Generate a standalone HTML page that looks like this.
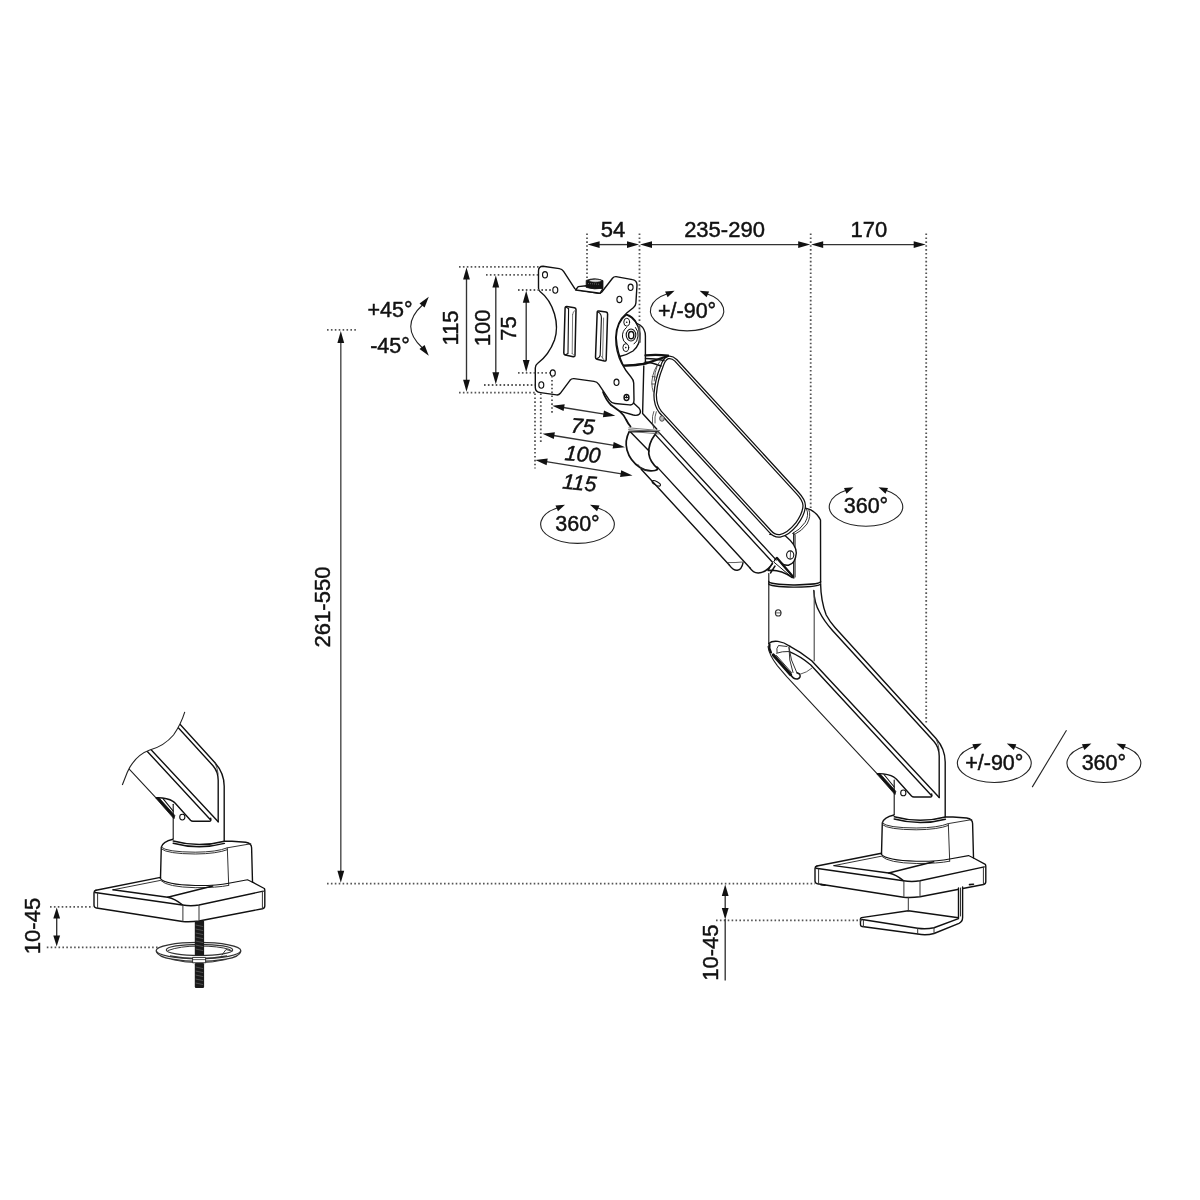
<!DOCTYPE html>
<html lang="en"><head><meta charset="utf-8"><title>Monitor arm dimensions</title>
<style>
html,body{margin:0;padding:0;background:#fff}
svg{display:block;filter:grayscale(1)}
text{font-family:"Liberation Sans",sans-serif;font-size:22px;fill:#111;stroke:#111;stroke-width:0.45px}
.dl{stroke:#333;stroke-width:1.35;fill:none}
.dv{stroke:#555;stroke-width:1.5;fill:none}
.el{stroke:#222;stroke-width:1.1;fill:none}
.ah{fill:#111;stroke:none}
.dt{stroke:#555;stroke-width:1.8;stroke-dasharray:1.6 2.3;fill:none}
.o{stroke:#111;stroke-width:1.4;fill:none;stroke-linecap:round;stroke-linejoin:round}
.w{stroke:#111;stroke-width:1.4;fill:#fff;stroke-linecap:round;stroke-linejoin:round}
.h{stroke:#111;stroke-width:1.8;fill:none;stroke-linecap:round;stroke-linejoin:round}
.t{stroke:#333;stroke-width:0.8;fill:none;stroke-linecap:round;stroke-linejoin:round}
.tw{stroke:#333;stroke-width:0.8;fill:#fff;stroke-linecap:round;stroke-linejoin:round}
.k{fill:#111;stroke:#111;stroke-width:0.8;stroke-linejoin:round}
</style></head>
<body>
<svg width="1200" height="1200" viewBox="0 0 1200 1200">
<rect width="1200" height="1200" fill="#fff"/>
<g id="p20_elbow">
<path class="w" d="M793.8,532 L793.8,508.5 L805,508.5 Q816.5,509.5 820.6,520 L820.6,583 L768.8,582 L768.8,560 Z" style="stroke:none"/>
<path class="o" d="M803,507.6 Q806,508.2 810.8,509.8 Q817.6,513.6 820.5,520 L820.6,583"/>
<path class="o" d="M793.8,533 L793.8,578"/>
<path class="t" d="M806.5,509 Q809.5,515 805,522.5 Q800,530 792.5,533.5 M808.8,509.6 Q811.5,516 807,524 Q802,531 794.5,534.5" style="stroke-width:1"/>
<path class="t" d="M795.3,535 L795.3,577"/>
</g>
<g id="p30_lowerarm">
<path class="w" style="stroke:none" d="M768.8,582 L820.6,583 C820.8,595 822,604 826.2,615 Q830,622 835,627.5 L936,738.5 Q945.2,749 945.2,762 L945.2,817 L894.2,817 L894.2,795 L877.5,774.2 L786.7,676.7 L777.5,665.8 Q768,653 768.8,643 Z"/>
<path class="o" d="M768.8,573.5 L768.8,643.5" style="stroke-width:1.1"/>
<path class="o" d="M768.8,581.4 A25.9,3.3 0 0 0 820.6,581.8" style="stroke-width:1.5"/>
<path class="o" d="M768.8,583.6 A25.9,3.3 0 0 0 820.6,584" style="stroke-width:1.3"/>
<path class="o" d="M820.6,584 C820.8,595 822,604 826.2,615 Q830,622 835,627.5 L936,738.5 Q945.2,749 945.2,762 L945.2,817"/>
<path class="o" d="M813.8,590.5 C814.2,600 816,606 819.5,612 Q824,621 832.5,630.5 L934,741.5 Q939.2,747.5 939.2,756 L939.2,797.5"/>
<path class="t" d="M936,738.5 Q938.5,744 939.2,750"/>
<path class="o" d="M814.2,591 L814.2,660.8" style="stroke-width:1.1;stroke:#444"/>
<path class="o" d="M790,646.3 Q801,652 811.7,660.8 L939.2,797.5"/>
<path class="o" d="M789.2,651.7 Q800,656 810.8,665 L931.7,795.8"/>
<path class="o" d="M768,646.5 Q769,655 777.5,665.8 L786.7,676.7 L877.5,774.2" style="stroke-width:1.1;stroke:#222"/>
<ellipse class="t" cx="778.2" cy="612.9" rx="2.8" ry="3.1" style="stroke-width:1.1"/><path class="t" d="M775.4,612.9 L781,612.9"/>
<path class="o" d="M768.8,643.5 Q772,640.6 778,641.4 Q784,642.2 790,646.3"/>
<path class="h" d="M769.5,644.5 Q768.5,648 771,652.5" style="stroke-width:2.2"/>
<path class="h" d="M773.3,655 L790.5,674.5" style="stroke-width:3.2"/>
<path class="o" d="M790.5,674.5 Q793.5,679.5 797.5,679 Q801.5,677.5 799.5,674 L797,672.8" style="stroke-width:1.5"/>
<path class="t" d="M776.6,653.2 Q782,651.2 788.5,651.5 M789,647.5 L791.5,660 L797,673 M789,647.5 L789.8,660 L793,672.5 M777,652.5 Q776,648 778.5,645.5 L787,646.5 M776.5,655.5 L791.5,672.5" style="stroke-width:1"/>
<path class="t" d="M800,674.3 Q807,672.5 811.7,668.3"/>
<path class="o" d="M877.5,773.6 Q888,773.3 894,777.2 Q895.5,778.3 896.5,779.3 L911.5,796 Q912.5,797 914,797 L930.5,797 Q931.8,797 931.8,795.8 L931.7,794"/>
<path class="k" d="M876.9,774 L879.8,773.4 L895.8,791.3 L895,794.6 Z"/>
<path class="o" d="M884,774.5 L894.2,787" style="stroke-width:1.1"/>
<ellipse class="o" cx="903.3" cy="792.9" rx="2.6" ry="2.9" style="stroke-width:1.1"/>
<path class="o" d="M894.2,780 L894.2,817.5" style="stroke-width:1.1"/>
</g>
<g id="p40_base">
<path class="w" style="stroke:none" d="M882.3,823 Q883,818 894,815 L945.6,817 L953,817 L966.7,818 Q972.6,819 972.6,823.5 L973.5,857.5 L985.3,864.3 L985.8,881.5 Q985.8,884 983.5,884.5 L920,897 L903.5,897.3 L817.5,883.8 Q815,883.3 815,881 L815,868.5 Q815,866.5 817,866 L881.5,853.2 Z"/>
<path class="o" d="M894,815 Q883.5,817.5 882.3,823 L881.5,854"/>
<path class="o" d="M945.6,817 L953,817 L966.7,818 Q972.6,819 972.6,823.5 L973.5,857.5"/>
<path class="o" d="M894.2,816.8 Q920,823.8 945.4,817" style="stroke-width:1.5"/>
<path class="o" d="M894.2,819 Q920,826 945.4,819.2" style="stroke-width:1.5"/>
<path class="t" d="M882.3,823 Q887,827.8 916.2,828 Q938,827.8 948.3,823.6 L971.8,819.6" style="stroke-width:1"/>
<path class="t" d="M882.6,824.8 Q888,829.6 916.2,829.8 Q938,829.6 948.6,825.4" style="stroke-width:1"/>
<path class="t" d="M948.3,823.6 L949.7,861" style="stroke-width:1"/>
<path class="o" d="M881.2,854.2 Q886,860.5 916.2,861.3 Q938,861.5 949.7,859 L968.5,855.6 L973.5,858" style="stroke-width:1.1"/>
<path class="t" d="M882,856.5 Q888,862.8 916.2,863.5 Q938,863.6 949.7,861.2" style="stroke-width:1"/>
<path class="o" d="M817,866 L881.5,853.2"/>
<path class="t" d="M834,865.6 L881.5,856.2" style="stroke-width:1"/>
<path class="o" d="M816,868.3 L903.4,880.8 Q912,882.3 920,880.8 L984.3,866.9"/>
<path class="o" d="M973.5,858 L985.3,864.3 Q985.8,865 985.8,866.5 L985.8,881.5 Q985.8,884 983.5,884.5 L920,896.8 Q911,898 903.5,897.3 L817.5,883.8 Q815,883.3 815,881 L815,868.5 Q815,866.5 817,866"/>
<path class="o" d="M834,865.6 L888.7,873 Q896,874.5 903.4,880.6"/>
<path class="o" d="M888.7,873 L933.7,861.8"/>
<path class="t" d="M818.6,869 L818.6,884 M903.9,881 L903.9,897 M920,881 L920,896.6 M983.4,867.2 L983.4,884.2" style="stroke-width:1"/>
</g>
<g id="p45_clamp">
<path class="w" d="M958.5,888 L958.5,917.8 L908.3,910.8 L861.5,917.6 Q860.4,917.8 860.4,919 L860.5,925 Q860.6,926.3 862,926.5 L917.7,934 Q926,935.6 934,933.5 L959,923.3 Q962.6,921.6 962.6,917.5 L962.6,887"/>
<path class="t" d="M908.3,897.3 L908.3,910.8 M960.5,888 L960.5,916" style="stroke-width:1"/>
<path class="o" d="M860.6,919.3 L917.7,928.2 Q926,929.4 934,927.7 L958.5,918.6" style="stroke-width:1.5"/>
<path class="t" d="M863.4,920 L863.4,926.6 M917.7,928.4 L917.7,934 M934,927.8 L934,933.5" style="stroke-width:1"/>
<path class="o" d="M969.5,884.6 L973.5,884.2 M821,884.6 L825,885.3" style="stroke-width:1.6"/>
</g>
<g id="p50_upperarm">
<path class="w" style="stroke:none" d="M660.2,415.1 L775.2,540.3 L738.0,574.5 L643.2,471.5 Z"/>
<path class="w" d="M769.8,534.4 L785,535.5 Q796.5,545 796.3,553 Q795.5,563.5 788.5,565.2 Q784,566 779.5,561.5 L775.1,559.4"/>
<ellipse class="o" cx="790.2" cy="555" rx="3.6" ry="4.1" style="stroke-width:1.1"/><path class="t" d="M790.6,551.5 L790.2,558.5"/>
<path class="w" d="M776.5,557.8 L793,576.2 L792.4,577.8 L774,562.2 Z" style="stroke-width:1"/>
<path class="h" d="M777,558 L792.8,576.6" style="stroke-width:2.3"/>
<path class="o" d="M772.5,563 L768,570.5 M775,566 L770.5,573 M768,570.5 Q780,569 792,577.5"/>
<path class="o" d="M655.0,428.1 L776.1,559.9"/>
<path class="o" d="M654.6,433.9 L772.3,562.0"/>
<path class="o" d="M657.1,466.9 L749.8,567.7"/>
<path class="o" d="M641.2,469.2 L729.5,565.3"/>
<path class="o" d="M749.8,567.7 Q753,573.2 758.5,573 Q766.5,572.5 772.5,563.5"/>
<path class="o" d="M729.5,565.3 Q733.5,570.6 737.3,570.2 Q741.8,569.4 743,562.8"/>
<path class="t" d="M727.5,562.6 Q735,562.8 742.8,562"/>
<path d="M675.8,360.3 L797.3,492.8 Q804.5,500.5 804.2,506 Q803.8,514 796.5,524 Q788,534.5 780,535.8 Q774.5,536.5 770,531.3 L660.3,411.9 Q654.8,404.5 655.2,394 Q656.2,380 661.7,366.7 Q664,359 668,357.5 Q672,356.5 675.8,360.3 Z" fill="#fff" stroke="#111" stroke-width="3.7" stroke-linejoin="round"/>
<path d="M675.8,360.3 L797.3,492.8 Q804.5,500.5 804.2,506 Q803.8,514 796.5,524 Q788,534.5 780,535.8 Q774.5,536.5 770,531.3 L660.3,411.9 Q654.8,404.5 655.2,394 Q656.2,380 661.7,366.7 Q664,359 668,357.5 Q672,356.5 675.8,360.3 Z" fill="none" stroke="#fff" stroke-width="1.2" stroke-linejoin="round"/>
</g>
<g id="p05_neck">
<path class="w" style="stroke-width:1.7" d="M629.2,431.7 Q624.5,441 627,450 Q630,461 640,467.5 Q647,472 655,470.5 Q657.5,470 657.8,468.5 Q650,462 648.8,453.8 Q648,444 655,434.5 L657,431 Z"/>
<path class="o" d="M630.5,432 L649,451"/>
<path class="t" d="M638,464.5 Q641,469.5 647,470.5"/>
<ellipse class="o" cx="656.3" cy="483.3" rx="4.6" ry="1.8" transform="rotate(28 656.3 483.3)" style="stroke-width:1.1"/>
<path class="w" style="stroke:none" d="M603,392 L610,404 L620,411.6 Q624,415 626,419.5 Q628,423.5 631.7,426 L628.8,427.8 L660,431.3 L656.7,429 L642.6,413.5 L643.8,366 L623.3,366 Z"/>
<path class="o" d="M656.7,429 L642.6,413.5 L643.8,366"/>
<path class="o" style="stroke-width:1.8" d="M603,392 Q606,400 611,405 L620,411.6 Q624,415 626,419.5 Q628,423.5 630.5,426.5"/>
<path d="M628.4,427.8 L660.2,430.6 M628.2,429.5 L660,432.4 M628.3,431.2 L659.6,434" stroke="#555" stroke-width="0.8" fill="none"/>
<path class="w" d="M632.5,402 L639.2,408.3 Q641.5,411.5 639.5,414 Q637.5,416 633.3,415 L620.8,411.3"/>
<path class="w" d="M626.7,314.5 Q633,316.5 636.7,323.3 L640,325 Q645.4,329 645.4,336 L645.4,361.5 Q645.3,363.5 643,363.8 L623.3,365.6 Q617,352 616.2,337.5 Q616.5,322 626.7,314.5 Z"/>
<path class="h" d="M623.3,365.6 Q634,366 645.4,363.6 L668,356" style="stroke-width:2.2"/>
<path class="h" d="M645.5,355.4 Q656,354.3 668,355.6" style="stroke-width:2.2"/>
<path class="o" d="M645.5,358.5 Q655,358.5 664,360.5 M645.5,362 Q652,362.5 661,366"/>
<path class="t" d="M660,361.5 Q653,369 651.8,382 Q651.8,388 653.3,392 M657.5,365 Q654.5,372 654.2,381 M652.2,376.5 L655.5,377 M651.8,384 L655,384"/>
<path class="t" d="M653.8,411.5 Q651.8,416 652.5,423 L653.8,428.5 M656.3,411.7 Q654.3,416.5 655,423"/>
<ellipse class="t" cx="662" cy="418.5" rx="2.4" ry="2.8" style="fill:#bbb"/>
<path class="o" d="M626.7,314.8 Q637.5,319 640,333.5 Q640.5,345 633,351 Q627,355 619.5,356.5"/>
<ellipse class="o" cx="631" cy="335" rx="4.8" ry="6" style="stroke-width:1.1"/>
<ellipse class="o" cx="631.2" cy="335.2" rx="2.6" ry="3.6" style="stroke-width:1.5"/>
<path class="o" d="M626.5,327.5 Q622,331 622.5,337 Q623,342 626.5,343.5 M635.5,327.5 Q638.5,331 638,336 Q637.5,342 634,344" style="stroke-width:1"/>
<ellipse class="o" cx="626.7" cy="322.2" rx="2.9" ry="3.9" style="stroke-width:1"/><circle cx="626.7" cy="322.2" r="0.8" fill="#111"/>
<ellipse class="o" cx="625.8" cy="347.6" rx="2.9" ry="3.9" style="stroke-width:1"/><circle cx="625.8" cy="347.6" r="0.8" fill="#111"/>
<path class="h" d="M639.3,326 L639.8,342" style="stroke:#555;stroke-width:2"/>
</g>
<g id="p10_plate">
<path class="w" d="M538.5,271 Q538.5,266.2 543,266.2 L559.3,268.6 Q562,269 563.6,271.4 L574.8,288.6 Q575.6,289.6 577.6,289.9 L598.5,293.2 Q600.5,293.5 601.8,292 L612.5,278.2 Q613.8,276.5 616,276.6 L632.5,279.6 Q637,280.3 637,285 L635.9,303 Q635.7,306 633.3,307.8 L626.7,313 Q616,322 615.7,337.5 Q615.7,352 621.7,363.3 Q626,371.5 630.8,376.7 Q633.7,380 633.7,383 L634,400 Q634,405.3 629.5,404.9 L615,403.5 Q611.5,403.1 609.5,400.3 L598.8,384.4 Q597,381.8 594,381.4 L574,378.6 Q571.5,378.4 570,380.3 L560.3,393.3 Q558.8,395.2 556.5,394.9 L540.5,392.6 Q535.3,392 535.3,387.5 L535.3,368 Q535.3,365 537.5,363.5 Q549,355 554.5,340 Q558.5,328 554.5,314 Q550,299 540,291.5 Q538.5,290.4 538.5,288 Z"/>
<g class="o" style="stroke-width:1.1">
<ellipse cx="545" cy="274.8" rx="2.5" ry="3.2"/>
<ellipse cx="555.3" cy="290" rx="2.5" ry="3.2"/>
<ellipse cx="630.6" cy="287.3" rx="2.5" ry="3.2"/>
<ellipse cx="619.4" cy="299.4" rx="2.5" ry="3.2"/>
<ellipse cx="552.8" cy="373.1" rx="2.5" ry="3.2"/>
<ellipse cx="541.3" cy="385" rx="2.5" ry="3.2"/>
<ellipse cx="616.5" cy="382.3" rx="2.5" ry="3.2"/>
<ellipse cx="626.5" cy="397.5" rx="2.4" ry="3" style="fill:#fff;stroke-width:1.5"/><path d="M625.2,397.5 h2.6 M626.5,395.8 v2" stroke="#111" stroke-width="1.2" fill="none"/>
</g>
<!-- slots -->
<path class="o" style="stroke-width:1.5" d="M566.8,306.5 L574.4,307.7 Q576,308 576,309.6 L575,355.2 Q574.9,357 573.2,356.7 L565.4,355 Q563.7,354.6 563.8,353 L565.1,308 Q565.2,306.3 566.8,306.5 Z"/>
<path class="o" style="stroke-width:1.1" d="M568.6,308.5 L568,353.5 M566,307.2 Q568.4,307.8 568.6,309.5 M568,353.5 L565,355"/>
<path class="t" style="stroke:#555" d="M572.6,314.5 L572.2,353.5 M572.6,314.5 Q572.8,311 575.6,310 M572.2,353.5 L574.6,356"/>
<path class="o" style="stroke-width:1.5" d="M598.9,310.9 L606,312 Q607.6,312.3 607.6,313.9 L606.2,359.6 Q606.1,361.3 604.4,361.1 L597,359.2 Q595.4,358.8 595.5,357.2 L597.2,312.4 Q597.3,310.7 598.9,310.9 Z"/>
<path class="o" style="stroke-width:1.1" d="M598,312 Q601.4,313.5 601.4,318 L600.2,355 Q600,357.5 596.5,358.8"/>
<path class="t" style="stroke:#555" d="M603.6,318 L602.6,358 M600.3,355.3 L602.6,358 L604.8,360.8"/>
<!-- bracket + knob -->
<path class="w" d="M575.6,290 L578.2,286.6 L586.3,285.7 L602,287.8 L602.6,289 L600,293.3 Z"/>
<path class="k" d="M586.2,280.4 Q594.5,277.2 603,280.6 L603,288.2 Q594.5,290 586.2,287.4 Z"/>
<ellipse cx="595.3" cy="280.7" rx="6.2" ry="1.5" fill="#ddd" stroke="#111" stroke-width="0.6"/>
<path d="M588,283.5 L600,284.3" stroke="#888" stroke-width="0.7" stroke-dasharray="1 1" fill="none"/>
</g>
<clipPath id="cutL"><path d="M905.8,687.7 Q902,700 894.5,710.8 Q885,722 870.8,725.8 Q856,731 848.3,748 L843.3,760.8 L800,780 L800,920 L1000,920 L1000,687 Z"/></clipPath>
<g id="left" transform="translate(-721 24.2)"><g clip-path="url(#cutL)">
<path class="w" style="stroke:none" d="M768.8,582 L820.6,583 C820.8,595 822,604 826.2,615 Q830,622 835,627.5 L936,738.5 Q945.2,749 945.2,762 L945.2,817 L894.2,817 L894.2,795 L877.5,774.2 L786.7,676.7 L777.5,665.8 Q768,653 768.8,643 Z"/>
<path class="o" d="M768.8,573.5 L768.8,643.5" style="stroke-width:1.1"/>
<path class="o" d="M768.8,581.4 A25.9,3.3 0 0 0 820.6,581.8" style="stroke-width:1.5"/>
<path class="o" d="M768.8,583.6 A25.9,3.3 0 0 0 820.6,584" style="stroke-width:1.3"/>
<path class="o" d="M820.6,584 C820.8,595 822,604 826.2,615 Q830,622 835,627.5 L936,738.5 Q945.2,749 945.2,762 L945.2,817"/>
<path class="o" d="M813.8,590.5 C814.2,600 816,606 819.5,612 Q824,621 832.5,630.5 L934,741.5 Q939.2,747.5 939.2,756 L939.2,797.5"/>
<path class="t" d="M936,738.5 Q938.5,744 939.2,750"/>
<path class="o" d="M814.2,591 L814.2,660.8" style="stroke-width:1.1;stroke:#444"/>
<path class="o" d="M790,646.3 Q801,652 811.7,660.8 L939.2,797.5"/>
<path class="o" d="M789.2,651.7 Q800,656 810.8,665 L931.7,795.8"/>
<path class="o" d="M768,646.5 Q769,655 777.5,665.8 L786.7,676.7 L877.5,774.2" style="stroke-width:1.1;stroke:#222"/>
<ellipse class="t" cx="778.2" cy="612.9" rx="2.8" ry="3.1" style="stroke-width:1.1"/><path class="t" d="M775.4,612.9 L781,612.9"/>
<path class="o" d="M768.8,643.5 Q772,640.6 778,641.4 Q784,642.2 790,646.3"/>
<path class="h" d="M769.5,644.5 Q768.5,648 771,652.5" style="stroke-width:2.2"/>
<path class="h" d="M773.3,655 L790.5,674.5" style="stroke-width:3.2"/>
<path class="o" d="M790.5,674.5 Q793.5,679.5 797.5,679 Q801.5,677.5 799.5,674 L797,672.8" style="stroke-width:1.5"/>
<path class="t" d="M776.6,653.2 Q782,651.2 788.5,651.5 M789,647.5 L791.5,660 L797,673 M789,647.5 L789.8,660 L793,672.5 M777,652.5 Q776,648 778.5,645.5 L787,646.5 M776.5,655.5 L791.5,672.5" style="stroke-width:1"/>
<path class="t" d="M800,674.3 Q807,672.5 811.7,668.3"/>
<path class="o" d="M877.5,773.6 Q888,773.3 894,777.2 Q895.5,778.3 896.5,779.3 L911.5,796 Q912.5,797 914,797 L930.5,797 Q931.8,797 931.8,795.8 L931.7,794"/>
<path class="k" d="M876.9,774 L879.8,773.4 L895.8,791.3 L895,794.6 Z"/>
<path class="o" d="M884,774.5 L894.2,787" style="stroke-width:1.1"/>
<ellipse class="o" cx="903.3" cy="792.9" rx="2.6" ry="2.9" style="stroke-width:1.1"/>
<path class="o" d="M894.2,780 L894.2,817.5" style="stroke-width:1.1"/>
<path class="w" style="stroke:none" d="M882.3,823 Q883,818 894,815 L945.6,817 L953,817 L966.7,818 Q972.6,819 972.6,823.5 L973.5,857.5 L985.3,864.3 L985.8,881.5 Q985.8,884 983.5,884.5 L920,897 L903.5,897.3 L817.5,883.8 Q815,883.3 815,881 L815,868.5 Q815,866.5 817,866 L881.5,853.2 Z"/>
<path class="o" d="M894,815 Q883.5,817.5 882.3,823 L881.5,854"/>
<path class="o" d="M945.6,817 L953,817 L966.7,818 Q972.6,819 972.6,823.5 L973.5,857.5"/>
<path class="o" d="M894.2,816.8 Q920,823.8 945.4,817" style="stroke-width:1.5"/>
<path class="o" d="M894.2,819 Q920,826 945.4,819.2" style="stroke-width:1.5"/>
<path class="t" d="M882.3,823 Q887,827.8 916.2,828 Q938,827.8 948.3,823.6 L971.8,819.6" style="stroke-width:1"/>
<path class="t" d="M882.6,824.8 Q888,829.6 916.2,829.8 Q938,829.6 948.6,825.4" style="stroke-width:1"/>
<path class="t" d="M948.3,823.6 L949.7,861" style="stroke-width:1"/>
<path class="o" d="M881.2,854.2 Q886,860.5 916.2,861.3 Q938,861.5 949.7,859 L968.5,855.6 L973.5,858" style="stroke-width:1.1"/>
<path class="t" d="M882,856.5 Q888,862.8 916.2,863.5 Q938,863.6 949.7,861.2" style="stroke-width:1"/>
<path class="o" d="M817,866 L881.5,853.2"/>
<path class="t" d="M834,865.6 L881.5,856.2" style="stroke-width:1"/>
<path class="o" d="M816,868.3 L903.4,880.8 Q912,882.3 920,880.8 L984.3,866.9"/>
<path class="o" d="M973.5,858 L985.3,864.3 Q985.8,865 985.8,866.5 L985.8,881.5 Q985.8,884 983.5,884.5 L920,896.8 Q911,898 903.5,897.3 L817.5,883.8 Q815,883.3 815,881 L815,868.5 Q815,866.5 817,866"/>
<path class="o" d="M834,865.6 L888.7,873 Q896,874.5 903.4,880.6"/>
<path class="o" d="M888.7,873 L933.7,861.8"/>
<path class="t" d="M818.6,869 L818.6,884 M903.9,881 L903.9,897 M920,881 L920,896.6 M983.4,867.2 L983.4,884.2" style="stroke-width:1"/>
</g>
<path class="el" d="M905.8,687.7 Q902,700 894.5,710.8 Q885,722 870.8,725.8 Q856,731 848.3,748 L843.3,760.8"/>
</g>
<ellipse cx="198.5" cy="950.6" rx="42.3" ry="8.2" fill="#fff" stroke="#333" stroke-width="1.3"/>
<path class="o" d="M156.3,951.5 Q158,956.8 172,959.2 Q198.5,963.6 226,959.2 Q239.5,956.8 240.8,951.5" style="stroke:#333;stroke-width:1.2"/>
<ellipse cx="199.5" cy="949.9" rx="33.2" ry="5.6" fill="none" stroke="#333" stroke-width="1.2"/>
<path class="t" d="M168,950.5 Q180,946 199,946 Q218,946 230,949.5 M222,955 L226,949.5 L232,951" style="stroke-width:1"/>
<path class="t" d="M172,959.5 Q198.5,966 226,959.5" style="stroke-width:1"/>
<rect x="194.8" y="921" width="9.3" height="34.5" fill="#1a1a1a"/>
<rect x="194.8" y="963" width="9.3" height="25" rx="1.2" fill="#1a1a1a"/>
<path d="M195.6,925 l7.6,1.6 M195.6,929 l7.6,1.6 M195.6,933 l7.6,1.6 M195.6,937 l7.6,1.6 M195.6,941 l7.6,1.6 M195.6,945 l7.6,1.6 M195.6,949 l7.6,1.6 M195.6,967 l7.6,1.6 M195.6,971 l7.6,1.6 M195.6,975 l7.6,1.6 M195.6,979 l7.6,1.6 M195.6,983 l7.6,1.6" stroke="#666" stroke-width="0.7" fill="none"/>
<path d="M170,955.8 Q198.5,961 227,955.8" stroke="#333" stroke-width="1.3" fill="none"/>
<path class="w" d="M193,957.4 h12.6 v5.4 h-12.6 Z" style="stroke-width:1;stroke:#333"/>
<path class="t" d="M193,959.6 h12.6"/>
<g id="dims">
<line class="dt" x1="587.0" y1="233.5" x2="587.0" y2="280.0"/>
<line class="dt" x1="639.5" y1="233.5" x2="639.5" y2="323.0"/>
<line class="dt" x1="810.7" y1="233.5" x2="810.7" y2="508.0"/>
<line class="dt" x1="926.2" y1="233.5" x2="926.2" y2="725.0"/>
<line class="dl" x1="598.6" y1="244.6" x2="628.0" y2="244.6"/><polygon class="ah" points="587.6,244.6 599.6,241.2 599.6,248.0"/><polygon class="ah" points="639.0,244.6 627.0,248.0 627.0,241.2"/>
<line class="dl" x1="651.0" y1="244.6" x2="799.2" y2="244.6"/><polygon class="ah" points="640.0,244.6 652.0,241.2 652.0,248.0"/><polygon class="ah" points="810.2,244.6 798.2,248.0 798.2,241.2"/>
<line class="dl" x1="822.2" y1="244.6" x2="914.7" y2="244.6"/><polygon class="ah" points="811.2,244.6 823.2,241.2 823.2,248.0"/><polygon class="ah" points="925.7,244.6 913.7,248.0 913.7,241.2"/>
<text x="613.0" y="236.7" text-anchor="middle">54</text>
<text x="724.5" y="236.7" text-anchor="middle">235-290</text>
<text x="868.8" y="236.7" text-anchor="middle">170</text>
<line class="dt" x1="459.0" y1="266.8" x2="540.0" y2="266.8"/>
<line class="dt" x1="459.0" y1="392.7" x2="535.0" y2="392.7"/>
<line class="dl" x1="466.5" y1="278.6" x2="466.5" y2="380.8"/><polygon class="ah" points="466.5,267.6 469.9,279.6 463.1,279.6"/><polygon class="ah" points="466.5,391.8 463.1,379.8 469.9,379.8"/>
<line class="dt" x1="486.0" y1="274.8" x2="538.0" y2="274.8"/>
<line class="dt" x1="484.0" y1="385.0" x2="535.0" y2="385.0"/>
<line class="dl" x1="495.8" y1="286.6" x2="495.8" y2="373.2"/><polygon class="ah" points="495.8,275.6 499.2,287.6 492.4,287.6"/><polygon class="ah" points="495.8,384.2 492.4,372.2 499.2,372.2"/>
<line class="dt" x1="518.0" y1="290.0" x2="552.0" y2="290.0"/>
<line class="dt" x1="518.0" y1="372.8" x2="550.0" y2="372.8"/>
<line class="dl" x1="526.2" y1="301.8" x2="526.2" y2="361.0"/><polygon class="ah" points="526.2,290.8 529.6,302.8 522.8,302.8"/><polygon class="ah" points="526.2,372.0 522.8,360.0 529.6,360.0"/>
<text x="458.0" y="328.0" text-anchor="middle" transform="rotate(-90 458.0 328.0)">115</text>
<text x="489.8" y="327.8" text-anchor="middle" transform="rotate(-90 489.8 327.8)">100</text>
<text x="516.3" y="328.5" text-anchor="middle" transform="rotate(-90 516.3 328.5)">75</text>
<line class="dt" x1="535.0" y1="393.5" x2="535.0" y2="468.5"/>
<line class="dt" x1="540.8" y1="393.5" x2="540.8" y2="443.5"/>
<line class="dt" x1="552.0" y1="376.0" x2="552.0" y2="414.0"/>
<line class="dl" x1="563.2" y1="407.5" x2="604.4" y2="414.1"/><polygon class="ah" points="552.3,405.8 564.7,404.3 563.6,411.0"/><polygon class="ah" points="615.3,415.8 602.9,417.3 604.0,410.6"/>
<line class="dl" x1="553.4" y1="435.5" x2="614.1" y2="445.4"/><polygon class="ah" points="542.5,433.7 554.9,432.3 553.8,439.0"/><polygon class="ah" points="625.0,447.2 612.6,448.6 613.7,441.9"/>
<line class="dl" x1="546.2" y1="461.7" x2="621.6" y2="473.8"/><polygon class="ah" points="535.3,460.0 547.7,458.5 546.6,465.2"/><polygon class="ah" points="632.5,475.5 620.1,477.0 621.2,470.3"/>
<text x="582.0" y="433.6" text-anchor="middle" transform="rotate(5 582.0 433.6)" style="font-size:21.3px;font-style:italic;">75</text>
<text x="582.0" y="461.6" text-anchor="middle" transform="rotate(5 582.0 461.6)" style="font-size:21.3px;font-style:italic;">100</text>
<text x="578.8" y="490.0" text-anchor="middle" transform="rotate(5 578.8 490.0)" style="font-size:21.3px;font-style:italic;">115</text>
<text x="390.0" y="317.0" text-anchor="middle" style="font-size:21.5px;">+45°</text>
<text x="390.0" y="353.0" text-anchor="middle" style="font-size:21.5px;">-45°</text>
<path class="el" d="M422.5,305 Q399,326.5 422.5,348"/>
<polygon class="ah" points="428.8,296.8 424.6,307.5 419.5,303.5"/>
<polygon class="ah" points="428.8,355.8 419.5,349.1 424.6,345.1"/>
<line class="dt" x1="327.0" y1="329.8" x2="357.0" y2="329.8"/>
<line class="dt" x1="327.0" y1="883.6" x2="815.0" y2="883.6"/>
<line class="dv" x1="340.8" y1="342.0" x2="340.8" y2="871.8"/><polygon class="ah" points="340.8,331.0 344.2,343.0 337.4,343.0"/><polygon class="ah" points="340.8,882.8 337.4,870.8 344.2,870.8"/>
<text x="329.5" y="607.0" text-anchor="middle" transform="rotate(-90 329.5 607.0)">261-550</text>
<line class="dt" x1="716.0" y1="920.4" x2="862.0" y2="920.4"/>
<line class="dl" x1="725.2" y1="895.1" x2="725.2" y2="909.1"/><polygon class="ah" points="725.2,884.6 728.6,896.1 721.8,896.1"/><polygon class="ah" points="725.2,919.6 721.8,908.1 728.6,908.1"/>
<line class="dl" x1="725.2" y1="919" x2="725.2" y2="980.5"/>
<text x="718.2" y="952.6" text-anchor="middle" transform="rotate(-90 718.2 952.6)">10-45</text>
<line class="dt" x1="50.0" y1="906.8" x2="93.0" y2="906.8"/>
<line class="dt" x1="46.8" y1="947.3" x2="158.0" y2="947.3"/>
<line class="dl" x1="56.7" y1="917.6" x2="56.7" y2="936.5"/><polygon class="ah" points="56.7,907.6 60.1,918.6 53.3,918.6"/><polygon class="ah" points="56.7,946.5 53.3,935.5 60.1,935.5"/>
<text x="40.2" y="926.0" text-anchor="middle" transform="rotate(-90 40.2 926.0)">10-45</text>
<path class="el" d="M706.2,293.6 A36.7,20.1 0 1 1 668.0,293.6"/>
<polygon class="ah" points="674.6,290.7 667.6,297.2 665.1,291.5"/>
<polygon class="ah" points="699.6,290.7 709.1,291.5 706.6,297.2"/>
<text x="687.1" y="318.3" text-anchor="middle" style="font-size:21.5px;">+/-90°</text>
<path class="el" d="M596.6,507.6 A36.8,19.3 0 1 1 558.4,507.6"/>
<polygon class="ah" points="565.0,504.7 558.0,511.2 555.5,505.5"/>
<polygon class="ah" points="590.0,504.7 599.5,505.5 597.0,511.2"/>
<text x="577.5" y="530.7" text-anchor="middle" style="font-size:21.5px;">360°</text>
<path class="el" d="M885.1,490.1 A36.7,19.5 0 1 1 846.9,490.1"/>
<polygon class="ah" points="853.5,487.2 846.5,493.7 844.0,488.0"/>
<polygon class="ah" points="878.5,487.2 888.0,488.0 885.5,493.7"/>
<text x="866.0" y="513.3" text-anchor="middle" style="font-size:21.5px;">360°</text>
<path class="el" d="M1013.4,746.3 A36.9,19.5 0 1 1 975.2,746.3"/>
<polygon class="ah" points="981.8,743.4 974.8,749.9 972.3,744.2"/>
<polygon class="ah" points="1006.8,743.4 1016.3,744.2 1013.8,749.9"/>
<text x="994.3" y="769.7" text-anchor="middle" style="font-size:21.5px;">+/-90°</text>
<path class="el" d="M1123.0,746.3 A36.9,19.5 0 1 1 1084.8,746.3"/>
<polygon class="ah" points="1091.4,743.4 1084.4,749.9 1081.9,744.2"/>
<polygon class="ah" points="1116.4,743.4 1125.9,744.2 1123.4,749.9"/>
<text x="1103.9" y="769.7" text-anchor="middle" style="font-size:21.5px;">360°</text>
<line class="el" x1="1066.5" y1="730.3" x2="1032.2" y2="787.1"/>
</g>
</svg>
</body></html>
